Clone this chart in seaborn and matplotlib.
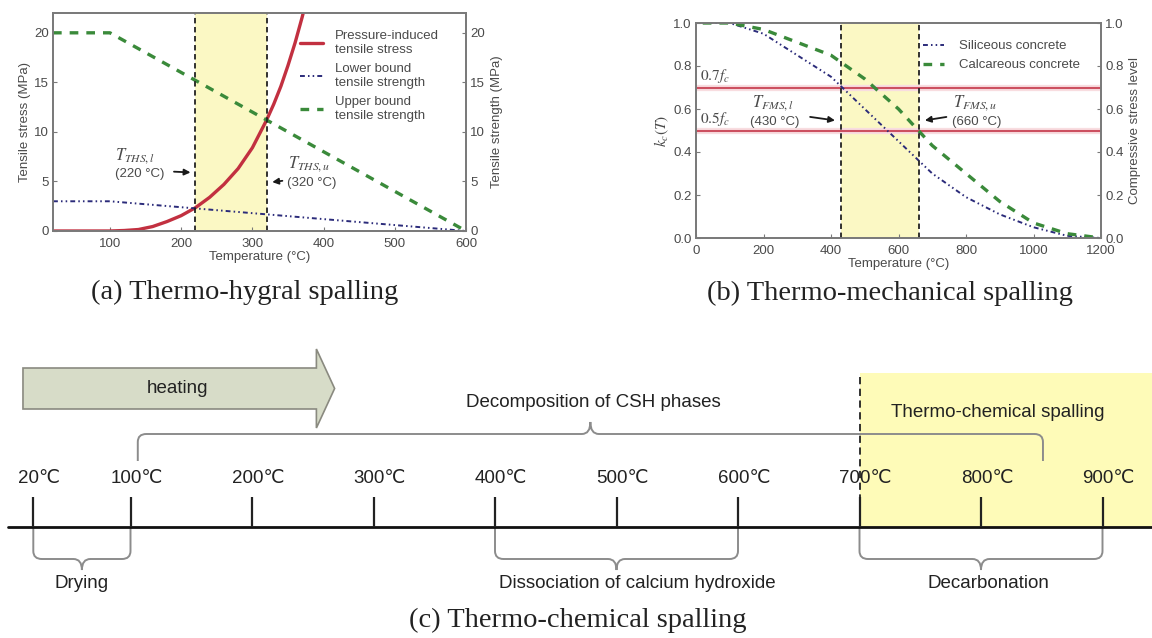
import numpy as np
import seaborn as sns
import matplotlib.pyplot as plt
from matplotlib.path import Path
from matplotlib.patches import PathPatch, Polygon, Rectangle

# ---------------- data ----------------
# (a) thermo-hygral spalling
temp_a = [20, 100, 120, 140, 160, 180, 200, 220, 240, 260, 280, 300, 320,
          330, 340, 350, 360, 370, 380]
pressure_stress = [0, 0, 0.05, 0.15, 0.45, 0.95, 1.55, 2.35, 3.4, 4.7, 6.3, 8.4, 11.2,
                   12.8, 14.6, 16.7, 19.0, 21.6, 24.5]
temp_strength = [20, 100, 600]
lower_strength = [3, 3, 0]
upper_strength = [20, 20, 0]
ths_lower, ths_upper = 220, 320

# (b) thermo-mechanical spalling
temp_b = [20, 100, 200, 300, 400, 500, 600, 700, 800, 900, 1000, 1100, 1200]
siliceous = [1.00, 1.00, 0.95, 0.85, 0.75, 0.60, 0.45, 0.30, 0.19, 0.11, 0.05, 0.01, 0.00]
calcareous = [1.00, 1.00, 0.97, 0.91, 0.85, 0.74, 0.60, 0.43, 0.30, 0.17, 0.07, 0.02, 0.00]
stress_levels = [0.7, 0.5]
stress_labels = [r"$0.7f_c$", r"$0.5f_c$"]
fms_lower, fms_upper = 430, 660

# (c) thermo-chemical spalling timeline
timeline_temps = [20, 100, 200, 300, 400, 500, 600, 700, 800, 900]
lower_phases = [("Drying", 20, 100, 60),
                ("Dissociation of calcium hydroxide", 400, 600, 517),
                ("Decarbonation", 700, 900, 806)]
csh_range = (106, 851)
chem_spalling_start = 700

# ---------------- style ----------------
sns.set_theme(style="ticks")
plt.rcParams["font.family"] = ["Liberation Sans", "DejaVu Sans"]
plt.rcParams["mathtext.fontset"] = "stix"

W, H = 1152, 638
fig = plt.figure(figsize=(11.52, 6.38), dpi=100)

grey_txt = "#4a4a4a"
spine_c = "#7a7a7a"
yellow = "#fbf8c4"
red = "#c23040"
green = "#3a8a3a"
blue = "#2b2b7a"
dash_g = (0, (2.6, 2.4))
dashdot_b = (0, (2.5, 1.6, 0.8, 1.6, 0.8, 1.6))
vdash = (0, (3, 2))


def style_axes(ax):
    for s in ax.spines.values():
        s.set_color(spine_c)
        s.set_linewidth(1.3)
    ax.tick_params(direction="in", length=3, width=0.8, color=spine_c,
                   labelsize=9.5, labelcolor=grey_txt, pad=3)
    ax.tick_params(axis="x", pad=5)


def px_axes(x0, y0, x1, y1):
    return fig.add_axes([x0 / W, 1 - y1 / H, (x1 - x0) / W, (y1 - y0) / H])


# ---------------- (a) ----------------
ax_a = px_axes(53, 13, 466, 231)
ax_a.axvspan(ths_lower, ths_upper, color=yellow, zorder=0, lw=0)
sns.lineplot(x=temp_a, y=pressure_stress, ax=ax_a, color=red, lw=2.4,
             label="Pressure-induced\ntensile stress")
sns.lineplot(x=temp_strength, y=lower_strength, ax=ax_a, color=blue, lw=1.4,
             linestyle=dashdot_b, label="Lower bound\ntensile strength")
sns.lineplot(x=temp_strength, y=upper_strength, ax=ax_a, color=green, lw=2.4,
             linestyle=dash_g, label="Upper bound\ntensile strength")
for t in (ths_lower, ths_upper):
    ax_a.axvline(t, color="#222", lw=1.3, ls=vdash)
ax_a.set_xlim(20, 600)
ax_a.set_ylim(0, 22)
ax_a.set_xticks([100, 200, 300, 400, 500, 600])
ax_a.set_yticks([0, 5, 10, 15, 20])
ax_a.set_xlabel("Temperature (°C)", fontsize=9.5, color=grey_txt, labelpad=1)
ax_a.set_ylabel("Tensile stress (MPa)", fontsize=9.5, color=grey_txt, labelpad=2)
style_axes(ax_a)
ax_a2 = ax_a.twinx()
ax_a2.set_ylim(0, 22)
ax_a2.set_yticks([0, 5, 10, 15, 20])
ax_a2.set_ylabel("Tensile strength (MPa)", fontsize=9.5, color=grey_txt, labelpad=4)
style_axes(ax_a2)
ax_a.legend(loc="upper left", bbox_to_anchor=(0.57, 0.975), frameon=False,
            fontsize=9.5, labelcolor=grey_txt, handlelength=1.7,
            labelspacing=0.55, handletextpad=0.9)

ax_a.text(107, 7.6, r"$T_{THS,l}$", fontsize=12, color=grey_txt, va="center")
ax_a.text(107, 5.8, "(220 °C)", fontsize=9.5, color=grey_txt, va="center")
ax_a.annotate("", xy=(217, 5.9), xytext=(186, 6.0),
              arrowprops=dict(arrowstyle="-|>", color="k", lw=1.3, mutation_scale=9))
ax_a.text(350, 6.8, r"$T_{THS,u}$", fontsize=12, color=grey_txt, va="center")
ax_a.text(349, 4.8, "(320 °C)", fontsize=9.5, color=grey_txt, va="center")
ax_a.annotate("", xy=(324, 4.9), xytext=(346, 5.1),
              arrowprops=dict(arrowstyle="-|>", color="k", lw=1.3, mutation_scale=9))

# ---------------- (b) ----------------
ax_b = px_axes(696, 23, 1101, 238)
ax_b.axvspan(fms_lower, fms_upper, color=yellow, zorder=0, lw=0)
for lvl, lab in zip(stress_levels, stress_labels):
    ax_b.axhline(lvl, color="#f8dde0", lw=4.5, zorder=1)
    ax_b.axhline(lvl, color="#cc5060", lw=1.5, zorder=2)
    ax_b.text(12, lvl + 0.012, lab, fontsize=11, color=grey_txt, va="bottom")
sns.lineplot(x=temp_b, y=siliceous, ax=ax_b, color=blue, lw=1.4,
             linestyle=dashdot_b, label="Siliceous concrete", zorder=3)
sns.lineplot(x=temp_b, y=calcareous, ax=ax_b, color=green, lw=2.4,
             linestyle=dash_g, label="Calcareous concrete", zorder=3)
for t in (fms_lower, fms_upper):
    ax_b.axvline(t, color="#222", lw=1.3, ls=vdash, zorder=4)
ax_b.set_xlim(0, 1200)
ax_b.set_ylim(0, 1.0)
ax_b.set_xticks(range(0, 1201, 200))
ax_b.set_yticks(np.arange(0, 1.01, 0.2))
ax_b.yaxis.set_major_formatter("{x:.1f}")
ax_b.set_xlabel("Temperature (°C)", fontsize=9.5, color=grey_txt, labelpad=1)
ax_b.set_ylabel(r"$k_c(T)$", fontsize=11, color=grey_txt, labelpad=2)
style_axes(ax_b)
ax_b2 = ax_b.twinx()
ax_b2.set_ylim(0, 1.0)
ax_b2.set_yticks(np.arange(0, 1.01, 0.2))
ax_b2.yaxis.set_major_formatter("{x:.1f}")
ax_b2.set_ylabel("Compressive stress level", fontsize=9.5, color=grey_txt, labelpad=4)
style_axes(ax_b2)
ax_b.legend(loc="upper left", bbox_to_anchor=(0.53, 0.975), frameon=False,
            fontsize=9.5, labelcolor=grey_txt, handlelength=1.6,
            labelspacing=0.5, handletextpad=1.2)

ax_b.text(166, 0.63, r"$T_{FMS,l}$", fontsize=12, color=grey_txt, va="center")
ax_b.text(160, 0.54, "(430 °C)", fontsize=9.5, color=grey_txt, va="center")
ax_b.annotate("", xy=(420, 0.545), xytext=(330, 0.565),
              arrowprops=dict(arrowstyle="-|>", color="k", lw=1.3, mutation_scale=9))
ax_b.text(762, 0.63, r"$T_{FMS,u}$", fontsize=12, color=grey_txt, va="center")
ax_b.text(758, 0.54, "(660 °C)", fontsize=9.5, color=grey_txt, va="center")
ax_b.annotate("", xy=(670, 0.545), xytext=(750, 0.565),
              arrowprops=dict(arrowstyle="-|>", color="k", lw=1.3, mutation_scale=9))

# ---------------- (c) timeline ----------------
# x in °C, y in pixel rows of the figure
px_per_deg, x_off = 1.215, 9
ax_c = px_axes(0, 330, W, H)
ax_c.set_xlim(-x_off / px_per_deg, (W - x_off) / px_per_deg)
ax_c.set_ylim(H, 330)
ax_c.axis("off")

line_y = 527
xmin, xmax = ax_c.get_xlim()
ax_c.add_patch(Rectangle((chem_spalling_start, 373), xmax - chem_spalling_start,
                         line_y - 373, color="#fefbb8", lw=0, zorder=0))
ax_c.plot([chem_spalling_start, chem_spalling_start], [377, line_y],
          color="#222", lw=1.3, ls=(0, (4, 2.5)))
ax_c.plot([xmin + 6.5, xmax], [line_y, line_y], color="#111", lw=2.0)
ax_c.vlines(timeline_temps, 497, line_y, color="#222", lw=1.6)
for t in timeline_temps:
    ax_c.text(t + 5, 479, f"{t}℃", ha="center", va="center", fontsize=13.5,
              color="#222")


def brace(ax, x0, x1, y_base, y_bar, xm, tip=11, rx=7, ry=8, color="#8c8c8c"):
    s = 1 if y_bar > y_base else -1
    verts = [(x0, y_base), (x0, y_bar - s * ry), (x0, y_bar), (x0 + rx, y_bar),
             (xm - rx, y_bar), (xm, y_bar), (xm, y_bar + s * tip),
             (xm, y_bar), (xm + rx, y_bar),
             (x1 - rx, y_bar), (x1, y_bar), (x1, y_bar - s * ry), (x1, y_base)]
    codes = [Path.MOVETO, Path.LINETO, Path.CURVE3, Path.CURVE3,
             Path.LINETO, Path.CURVE3, Path.CURVE3, Path.CURVE3, Path.CURVE3,
             Path.LINETO, Path.CURVE3, Path.CURVE3, Path.LINETO]
    ax.add_patch(PathPatch(Path(verts, codes), fill=False, edgecolor=color, lw=1.4))


for name, t0, t1, tx in lower_phases:
    brace(ax_c, t0, t1, line_y, 559, (t0 + t1) / 2)
    ax_c.text(tx, 584, name, ha="center", va="center", fontsize=13.5, color="#222")

brace(ax_c, csh_range[0], csh_range[1], 461, 434, sum(csh_range) / 2, tip=12)
ax_c.text(481, 403, "Decomposition of CSH phases", ha="center", va="center",
          fontsize=13.5, color="#222")
ax_c.text(814, 413, "Thermo-chemical spalling", ha="center", va="center",
          fontsize=13.5, color="#222")

# heating arrow
arrow = [(11.5, 368), (253, 368), (253, 349), (268, 388.5), (253, 428), (253, 409), (11.5, 409)]
ax_c.add_patch(Polygon(arrow, closed=True, facecolor="#d7dcc8", edgecolor="#8a8a80", lw=1.2))
ax_c.text(139, 389, "heating", ha="center", va="center", fontsize=13.5, color="#222")

# ---------------- captions ----------------
cap = dict(ha="center", va="center", fontsize=20.5, family="Liberation Serif", color="#222")
fig.text(245 / W, 1 - 292 / H, "(a) Thermo-hygral spalling", **cap)
fig.text(890 / W, 1 - 293 / H, "(b) Thermo-mechanical spalling", **cap)
fig.text(578 / W, 1 - 620 / H, "(c) Thermo-chemical spalling", **cap)

fig.savefig("out.png", dpi=100)
